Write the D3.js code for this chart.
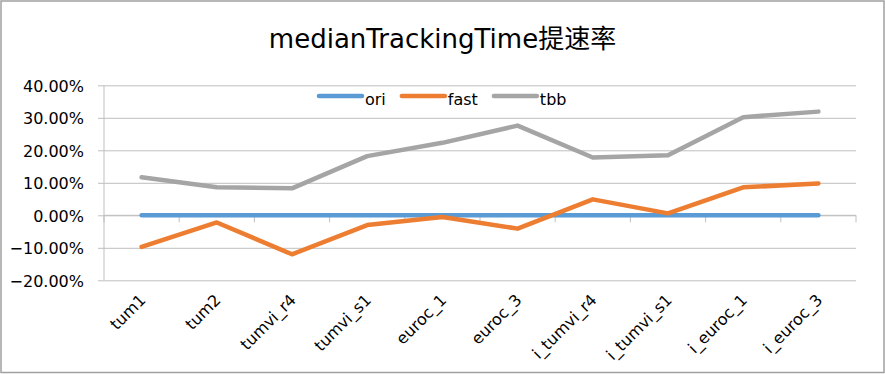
<!DOCTYPE html>
<html>
<head>
<meta charset="utf-8">
<script src="https://cdn.jsdelivr.net/npm/d3@7"></script>
<style>
  body { margin: 0; background: #fff; }
  text { font-family: "DejaVu Sans", "Noto Sans CJK SC", sans-serif; fill: #000; }
</style>
</head>
<body>
<script>
var titleText = "medianTrackingTime提速率";
var categories = ["tum1", "tum2", "tumvi_r4", "tumvi_s1", "euroc_1", "euroc_3", "i_tumvi_r4", "i_tumvi_s1", "i_euroc_1", "i_euroc_3"];
var seriesNames = ["ori", "fast", "tbb"];
var ori  = [0, 0, 0, 0, 0, 0, 0, 0, 0, 0];
var fast = [-0.097, -0.022, -0.120, -0.030, -0.005, -0.041, 0.049, 0.006, 0.086, 0.098];
var tbb  = [0.117, 0.086, 0.083, 0.182, 0.223, 0.276, 0.178, 0.185, 0.302, 0.319];
var yTicks = [0.4, 0.3, 0.2, 0.1, 0, -0.1, -0.2];
var colors = ["#5B9BD5", "#ED7D31", "#A5A5A5"];

var W = 885, H = 374;
var plotL = 104, plotR = 856, plotT = 85.3, plotB = 280.3;

var svg = d3.select("body").append("svg")
            .attr("width", W)
            .attr("height", H);

// outer chart border
svg.append("rect")
   .attr("x", 1).attr("y", 1)
   .attr("width", 883).attr("height", 371.5)
   .attr("fill", "#fff")
   .attr("stroke", "#a0a0a0")
   .attr("stroke-width", 1.5);

svg.append("text")
   .attr("x", W / 2)
   .attr("y", 48)
   .attr("text-anchor", "middle")
   .style("font-size", "26px")
   .text(titleText);

var x = d3.scaleBand().domain(categories).range([plotL, plotR]);
var y = d3.scaleLinear().domain([-0.2, 0.4]).range([plotB, plotT]);

// gridlines (extend 6px left of the axis as outer ticks)
var gy = svg.append("g")
            .attr("transform", "translate(" + plotR + ",0)");
gy.call(d3.axisLeft(y).tickValues(yTicks).tickSize(plotR - plotL + 6).tickFormat(""));
gy.select(".domain").remove();
gy.selectAll("line").attr("stroke", "#bfbfbf").attr("stroke-width", 1);

// y labels
svg.selectAll(".ylab")
   .data(yTicks)
   .enter()
   .append("text")
   .attr("class", "ylab")
   .attr("x", 84)
   .attr("y", function(d) { return y(d) + 2; })
   .attr("text-anchor", "end")
   .attr("dominant-baseline", "middle")
   .style("font-size", "16px")
   .text(function(d) { return d3.format(".2%")(d); });

// vertical axis line
svg.append("line")
   .attr("x1", plotL).attr("x2", plotL)
   .attr("y1", plotT).attr("y2", plotB)
   .attr("stroke", "#bfbfbf").attr("stroke-width", 1);

// category axis at zero with ticks at band boundaries
var bounds = categories.map(function(c) { return x(c); }).concat([plotR]);
svg.append("line")
   .attr("x1", plotL).attr("x2", plotR)
   .attr("y1", y(0)).attr("y2", y(0))
   .attr("stroke", "#bfbfbf");
svg.selectAll(".xtick")
   .data(bounds)
   .enter()
   .append("line")
   .attr("x1", function(d) { return d; })
   .attr("x2", function(d) { return d; })
   .attr("y1", y(0))
   .attr("y2", y(0) + 7)
   .attr("stroke", "#bfbfbf");

// category labels, rotated
svg.selectAll(".xlab")
   .data(categories)
   .enter()
   .append("text")
   .attr("class", "xlab")
   .attr("text-anchor", "end")
   .attr("transform", function(d) {
      return "translate(" + (x(d) + x.bandwidth() / 2 + 5) + ",301) rotate(-45)";
   })
   .style("font-size", "16px")
   .text(function(d) { return d; });

// lines
var line = d3.line()
             .x(function(d, i) { return x(categories[i]) + x.bandwidth() / 2; })
             .y(function(d) { return y(d); });
[ori, fast, tbb].forEach(function(s, k) {
  svg.append("path")
     .datum(s)
     .attr("d", line)
     .attr("fill", "none")
     .attr("stroke", colors[k])
     .attr("stroke-width", 4.5)
     .attr("stroke-linejoin", "round")
     .attr("stroke-linecap", "round");
});

// legend
var lx = 319;
seriesNames.forEach(function(n, k) {
  svg.append("line")
     .attr("x1", lx).attr("x2", lx + 43)
     .attr("y1", 96).attr("y2", 96)
     .attr("stroke", colors[k])
     .attr("stroke-width", 4.5)
     .attr("stroke-linecap", "round");
  var t = svg.append("text")
     .attr("x", lx + 46)
     .attr("y", 104.5)
     .style("font-size", "16px")
     .text(n);
  lx = lx + 46 + t.node().getComputedTextLength() + 16;
});
</script>
</body>
</html>
